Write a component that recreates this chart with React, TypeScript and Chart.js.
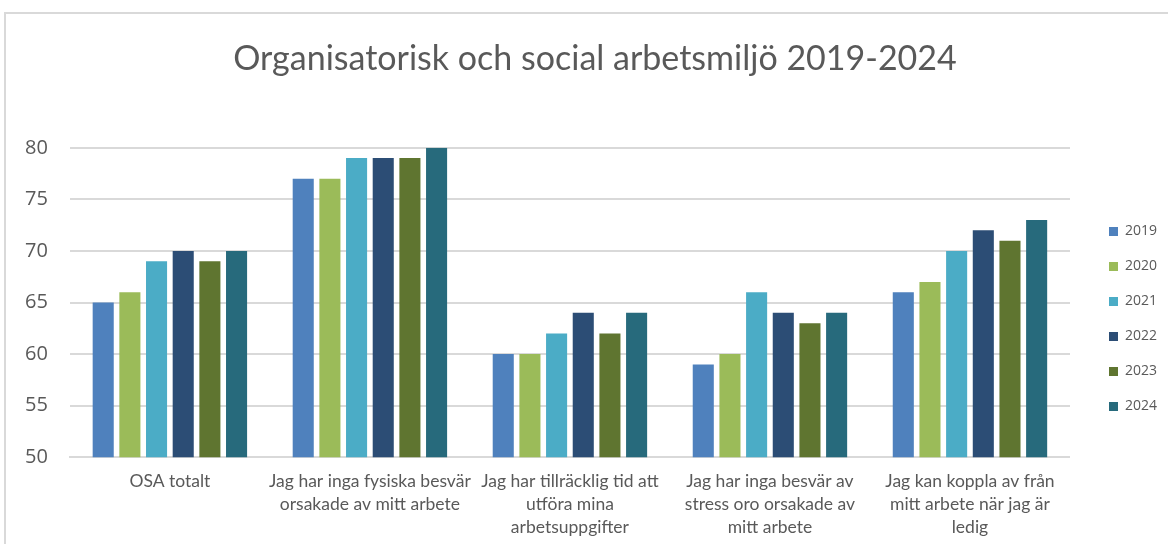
import React, { useEffect, useRef } from "react";
import { Chart, registerables } from "chart.js";

Chart.register(...registerables);

const categories: (string | string[])[] = [
  "OSA totalt",
  ["Jag har inga fysiska besvär", "orsakade av mitt arbete"],
  ["Jag har tillräcklig tid att", "utföra mina", "arbetsuppgifter"],
  ["Jag har inga besvär av", "stress oro orsakade av", "mitt arbete"],
  ["Jag kan koppla av från", "mitt arbete när jag är", "ledig"],
];

const years = ["2019", "2020", "2021", "2022", "2023", "2024"];
const v2019 = [65, 77, 60, 59, 66];
const v2020 = [66, 77, 60, 60, 67];
const v2021 = [69, 79, 62, 66, 70];
const v2022 = [70, 79, 64, 64, 72];
const v2023 = [69, 79, 62, 63, 71];
const v2024 = [70, 80, 64, 64, 73];
const colors = ["#4F81BD", "#9BBB59", "#4BACC6", "#2C4D75", "#5F7530", "#276A7C"];
const yTicks = [50, 55, 60, 65, 70, 75, 80];

const boxShift = {
  id: "boxShift",
  afterLayout(chart: any) {
    const lg = chart.legend;
    if (lg) {
      const dx = 18;
      const dy = 43;
      lg.left += dx;
      lg.right += dx;
      lg.top += dy;
      lg.bottom += dy;
    }
    const tb = chart.titleBlock;
    if (tb) {
      tb.left += 19;
      tb.right += 19;
    }
  },
};

export default function App() {
  const ref = useRef<HTMLCanvasElement | null>(null);
  useEffect(() => {
    document.body.style.margin = "0";
    const series = [v2019, v2020, v2021, v2022, v2023, v2024];
    const chart = new Chart(ref.current!, {
      type: "bar",
      data: {
        labels: categories,
        datasets: years.map((y, i) => ({
          label: y,
          data: series[i],
          backgroundColor: colors[i],
          borderWidth: 0,
          categoryPercentage: 0.8,
          barPercentage: 0.79,
        })),
      },
      plugins: [boxShift],
      options: {
        animation: false,
        responsive: false,
        maintainAspectRatio: false,
        layout: { padding: { left: 3, right: 19, bottom: -8, top: 0 } },
        plugins: {
          title: {
            display: true,
            text: "Organisatorisk och social arbetsmiljö 2019-2024",
            color: "#595959",
            font: { family: "Lato", size: 34, weight: "normal" },
            padding: { top: 39, bottom: 68 },
          },
          legend: {
            position: "right",
            labels: {
              color: "#595959",
              font: { family: "Open Sans", size: 14 },
              boxWidth: 9,
              boxHeight: 9,
              padding: 21,
            },
          },
          tooltip: { enabled: false },
        },
        scales: {
          x: {
            grid: { display: false, drawTicks: false },
            border: { color: "#d9d9d9", width: 2 },
            ticks: {
              color: "#595959",
              font: { family: "Lato", size: 17.5, lineHeight: 1.31 },
              padding: 13,
              maxRotation: 0,
              autoSkip: false,
            },
          },
          y: {
            min: 50,
            max: 80,
            afterBuildTicks: (axis: any) => {
              axis.ticks = yTicks.map((v) => ({ value: v }));
            },
            grid: { color: "#d9d9d9", lineWidth: 2, drawTicks: false },
            border: { display: false },
            ticks: {
              color: "#595959",
              font: { family: "Open Sans", size: 20 },
              padding: 22,
            },
          },
        },
      },
    });
    return () => chart.destroy();
  }, []);
  return (
    <div style={{ position: "absolute", left: 0, top: 0, width: 1168, height: 544, background: "#fff", overflow: "hidden" }}>
      <div
        style={{
          position: "absolute",
          left: 4,
          top: 12,
          width: 1250,
          height: 700,
          border: "2px solid #d9d9d9",
          boxSizing: "border-box",
        }}
      />
      <canvas ref={ref} width={1168} height={544} style={{ position: "absolute", left: 0, top: 0 }} />
    </div>
  );
}
